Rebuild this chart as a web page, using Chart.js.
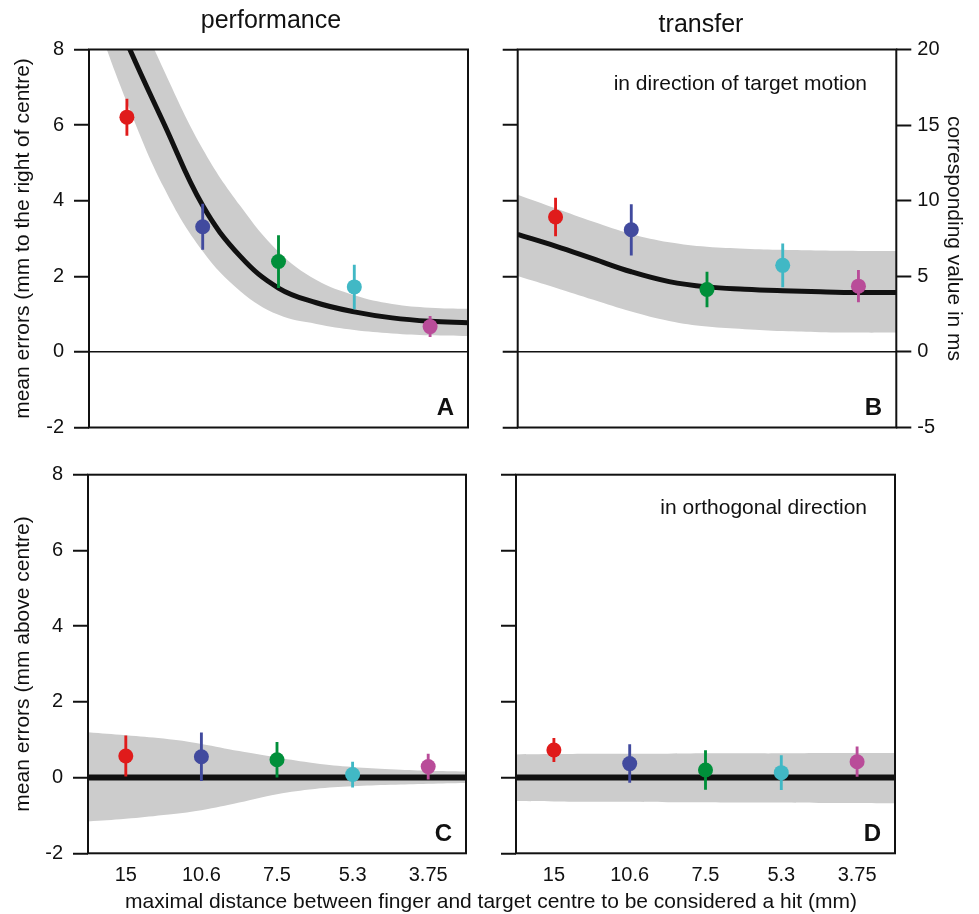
<!DOCTYPE html>
<html>
<head>
<meta charset="utf-8">
<script src="https://cdn.jsdelivr.net/npm/chart.js@4.4.0/dist/chart.umd.min.js"></script>
<style>
body { margin: 0; background: #fff; }
#wrap { position: relative; width: 979px; height: 914px; font-family: "Liberation Sans", Arial, sans-serif; color: #111; }
#wrap canvas { position: absolute; left: 0; top: 0; }
.t { position: absolute; white-space: nowrap; line-height: 1; }
</style>
</head>
<body>
<div id="wrap">
  <canvas id="cA" width="979" height="914"></canvas>
  <canvas id="cB" width="979" height="914"></canvas>
  <canvas id="cC" width="979" height="914"></canvas>
  <canvas id="cD" width="979" height="914"></canvas>

  <div class="t" style="left:171px;width:200px;text-align:center;top:7px;font-size:25px">performance</div>
  <div class="t" style="left:601px;width:200px;text-align:center;top:11px;font-size:25px">transfer</div>
  <div class="t" style="right:112px;top:72px;font-size:21px">in direction of target motion</div>
  <div class="t" style="right:112px;top:496px;font-size:21px">in orthogonal direction</div>
  <div class="t" style="right:525px;top:395px;font-size:24px;font-weight:bold">A</div>
  <div class="t" style="right:97px;top:395px;font-size:24px;font-weight:bold">B</div>
  <div class="t" style="right:527px;top:821px;font-size:24px;font-weight:bold">C</div>
  <div class="t" style="right:98px;top:821px;font-size:24px;font-weight:bold">D</div>
  <div class="t" style="left:91px;width:800px;text-align:center;top:890px;font-size:21px">maximal distance between finger and target centre to be considered a hit (mm)</div>
</div>

<script>
// categories (target size, mm) and dot colours
const distances = ['15', '10.6', '7.5', '5.3', '3.75'];
const dotColors = ['#e01b1b', '#414a9e', '#008f3a', '#41b8c5', '#b94c99'];

const fitX = [0.5, 1, 1.5, 2, 2.5, 3, 3.5, 4, 4.5, 5, 5.5];

// A: performance, direction of motion
const meanA = [6.21, 3.31, 2.39, 1.72, 0.67];
const errA  = [0.48, 0.60, 0.69, 0.58, 0.27];
const fitA  = [10.6, 8.18, 5.99, 3.87, 2.52, 1.69, 1.30, 1.06, 0.90, 0.81, 0.77];
const hiA   = [12.5, 9.7, 7.4, 5.37, 3.85, 2.65, 1.90, 1.50, 1.27, 1.17, 1.14];
const loA   = [9.3, 6.6, 4.3, 2.66, 1.60, 0.98, 0.74, 0.58, 0.49, 0.44, 0.42];

// B: transfer, direction of motion
const meanB = [3.57, 3.23, 1.65, 2.29, 1.74];
const errB  = [0.50, 0.67, 0.46, 0.57, 0.42];
const fitB  = [3.11, 2.80, 2.46, 2.12, 1.86, 1.72, 1.66, 1.62, 1.59, 1.57, 1.57];
const hiB   = [4.16, 3.80, 3.44, 3.12, 2.90, 2.78, 2.73, 2.70, 2.68, 2.67, 2.67];
const loB   = [2.01, 1.70, 1.38, 1.07, 0.82, 0.67, 0.60, 0.55, 0.52, 0.51, 0.51];

// C: performance, orthogonal
const meanC = [0.57, 0.55, 0.47, 0.08, 0.29];
const errC  = [0.53, 0.63, 0.46, 0.33, 0.33];
const fitC  = [0, 0, 0, 0, 0, 0, 0, 0, 0, 0, 0];
const hiC   = [1.20, 1.12, 1.03, 0.89, 0.70, 0.53, 0.38, 0.28, 0.22, 0.18, 0.16];
const loC   = [-1.16, -1.09, -0.99, -0.86, -0.66, -0.44, -0.30, -0.23, -0.19, -0.16, -0.14];

// D: transfer, orthogonal
const meanD = [0.73, 0.37, 0.20, 0.13, 0.42];
const errD  = [0.31, 0.50, 0.51, 0.45, 0.39];
const fitD  = [0, 0, 0, 0, 0, 0, 0, 0, 0, 0, 0];
const hiD   = [0.61, 0.62, 0.63, 0.63, 0.63, 0.64, 0.64, 0.64, 0.65, 0.65, 0.65];
const loD   = [-0.62, -0.63, -0.64, -0.64, -0.65, -0.65, -0.66, -0.66, -0.67, -0.67, -0.68];

const ink = '#111';
const tickFont = {family: '"Liberation Sans", Arial, sans-serif', size: 20};
const titleFont = {family: '"Liberation Sans", Arial, sans-serif', size: 21};

// frame round each panel
const boxPlugin = {
  id: 'box',
  afterDatasetsDraw(chart) {
    const {ctx, chartArea: a} = chart;
    ctx.save();
    ctx.strokeStyle = ink;
    ctx.lineWidth = 2;
    ctx.strokeRect(a.left, a.top, a.right - a.left, a.bottom - a.top);
    ctx.restore();
  }
};

function pts(ys) { return fitX.map((x, i) => ({x: x, y: ys[i]})); }

function panel(id, mean, err, fit, hi, lo, o) {
  const yScale = {
    min: -2, max: 8,
    ticks: {stepSize: 2, display: o.yLabels, padding: 10, color: ink, font: tickFont},
    grid: {
      drawOnChartArea: o.zeroLine,
      color: c => (c.tick && c.tick.value === 0) ? ink : 'rgba(0,0,0,0)',
      lineWidth: 1.5, tickColor: ink, tickLength: 15, tickWidth: 2
    },
    border: {display: false},
    title: {display: !!o.yTitle, text: o.yTitle, color: ink, font: titleFont, padding: {top: 11, bottom: 0}},
    afterFit: s => { s.width = o.yWidth; }
  };
  const scales = {
    x: {
      type: 'linear', min: 0.5, max: 5.5, offset: false, display: o.xLabels,
      afterBuildTicks: s => { s.ticks = distances.map((d, i) => ({value: i + 1})); },
      ticks: {callback: v => distances[v - 1], padding: 10, color: ink, font: tickFont, maxRotation: 0},
      grid: {display: false, drawTicks: false, offset: false},
      border: {display: false},
      afterFit: s => { s.height = o.xLabels ? 40 : 0; }
    },
    y: yScale
  };
  if (o.rightAxis) {
    scales.y2 = {
      position: 'right', min: -5, max: 20,
      ticks: {stepSize: 5, padding: 6, color: ink, font: tickFont},
      grid: {drawOnChartArea: false, tickColor: ink, tickLength: 15, tickWidth: 2},
      border: {display: false},
      title: {display: true, text: 'corresponding value in ms', color: ink, font: titleFont, padding: {top: 13, bottom: 0}},
      afterFit: s => { s.width = 979 - 896.3; }
    };
  }
  return new Chart(document.getElementById(id), {
    type: 'scatter',
    data: {
      datasets: [
        {
          type: 'scatter',
          data: mean.map((m, i) => ({x: i + 1, y: m})),
          pointRadius: 7.5, pointBorderWidth: 0,
          pointBackgroundColor: dotColors, pointBorderColor: dotColors
        },
        {
          type: 'bar',
          data: mean.map((m, i) => ({x: i + 1, y: [m - err[i], m + err[i]]})),
          backgroundColor: dotColors, borderWidth: 0,
          barThickness: 2.2, grouped: false
        },
        {
          type: 'line', data: pts(fit), showLine: true,
          borderColor: ink, borderWidth: o.fitWidth, pointRadius: 0,
          tension: 0.4, clip: 0
        },
        {
          type: 'line', data: pts(hi), showLine: true,
          borderColor: 'rgba(0,0,0,0)', borderWidth: 0, pointRadius: 0,
          backgroundColor: '#cccccc', fill: '+1',
          tension: 0.4, clip: 0
        },
        {
          type: 'line', data: pts(lo), showLine: true,
          borderColor: 'rgba(0,0,0,0)', borderWidth: 0, pointRadius: 0,
          fill: false, tension: 0.4, clip: 0
        }
      ]
    },
    options: {
      responsive: false,
      animation: false,
      devicePixelRatio: 1,
      events: [],
      layout: {padding: o.pad},
      scales: scales,
      plugins: {
        legend: {display: false},
        tooltip: {enabled: false},
        filler: {drawTime: 'beforeDatasetsDraw'}
      }
    },
    plugins: [boxPlugin]
  });
}

panel('cA', meanA, errA, fitA, hiA, loA, {
  pad: {left: 0, top: 49.5, right: 511, bottom: 486.5},
  yWidth: 89, yLabels: true, zeroLine: true, xLabels: false, fitWidth: 5,
  yTitle: 'mean errors (mm to the right of centre)'
});
panel('cB', meanB, errB, fitB, hiB, loB, {
  pad: {left: 487.7, top: 49.5, right: 0, bottom: 486.5},
  yWidth: 30, yLabels: false, zeroLine: true, xLabels: false, fitWidth: 5, rightAxis: true
});
panel('cC', meanC, errC, fitC, hiC, loC, {
  pad: {left: 0, top: 474.7, right: 513, bottom: 20.7},
  yWidth: 88, yLabels: true, zeroLine: false, xLabels: true, fitWidth: 6,
  yTitle: 'mean errors (mm above centre)'
});
panel('cD', meanD, errD, fitD, hiD, loD, {
  pad: {left: 486, top: 474.7, right: 84, bottom: 20.7},
  yWidth: 30, yLabels: false, zeroLine: false, xLabels: true, fitWidth: 6
});
</script>
</body>
</html>
